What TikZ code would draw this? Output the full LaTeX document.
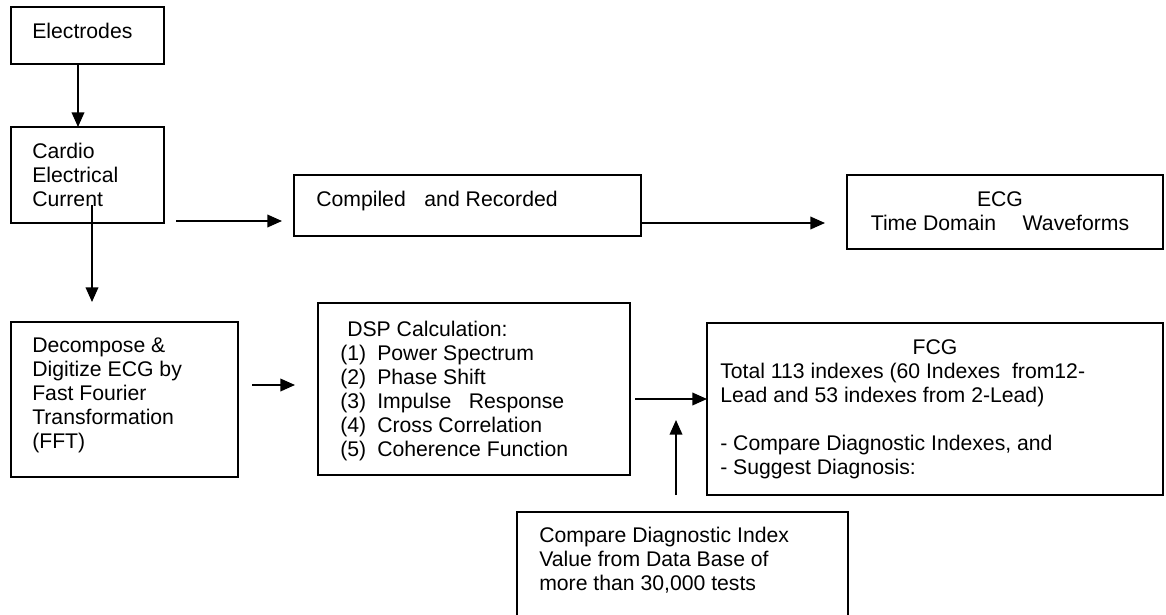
\documentclass[tikz,border=0pt]{standalone}
\usepackage{fontspec}
\setmainfont{Liberation Sans}
\usetikzlibrary{arrows.meta,calc}
\newcommand\fs{\fontsize{15.9pt}{18pt}\selectfont}
\newcommand\fl{\rule{0pt}{12pt}}
\newcommand\pxl[1]{#1*0.75pt}
\begin{document}
\begin{tikzpicture}[x=0.75pt,y=-0.75pt,
  box/.style={draw=black,line width=1.4pt,inner sep=0pt,outer sep=0pt,anchor=north west,rectangle},
  txt/.style={inner sep=0pt,anchor=north west,align=left,font=\fs},
  arr/.style={line width=1.2pt,-{Triangle[length=11pt,width=9.5pt]}}]
\path[use as bounding box,fill=white] (0,0) rectangle (1166,614);
\clip (0,0) rectangle (1166,614);
% boxes
\node[box,minimum width=\pxl{153},minimum height=\pxl{57}] (el) at (11,7) {};
\node[box,minimum width=\pxl{153},minimum height=\pxl{96}] (cec) at (11,127) {};
\node[box,minimum width=\pxl{347},minimum height=\pxl{61}] (crec) at (294,175) {};
\node[box,minimum width=\pxl{316},minimum height=\pxl{74}] (ecg) at (847,175) {};
\node[box,minimum width=\pxl{227},minimum height=\pxl{155}] (dec) at (11,322) {};
\node[box,minimum width=\pxl{312},minimum height=\pxl{172}] (dsp) at (318,303) {};
\node[box,minimum width=\pxl{456},minimum height=\pxl{172}] (fcg) at (707,323) {};
\node[box,minimum width=\pxl{331},minimum height=\pxl{106}] (cmp) at (517,512) {};
% texts
\node[txt] (elt) at (32,22) {\fl Electrodes};
\node[txt] (cect) at (32,142) {\fl Cardio\\Electrical\\Current};
\node[txt] (crect) at (316,190) {\fl Compiled\hspace{14pt}and Recorded};
\node[txt,anchor=north,align=center] (ecgt) at (1000,190) {\fl ECG\\Time Domain\hspace{20pt}Waveforms};
\node[txt] (dect) at (32,336) {\fl Decompose \&\\Digitize ECG by\\Fast Fourier\\Transformation\\(FFT)};
\node[txt] (dspt) at (340,320) {\fl\hspace*{5.25pt}DSP Calculation:\\
  \makebox[27.75pt][l]{(1)}Power Spectrum\\
  \makebox[27.75pt][l]{(2)}Phase Shift\\
  \makebox[27.75pt][l]{(3)}Impulse\hspace{13pt}Response\\
  \makebox[27.75pt][l]{(4)}Cross Correlation\\
  \makebox[27.75pt][l]{(5)}Coherence Function};
\node[txt,anchor=north] (fcgh) at (935,338) {\fl FCG};
\node[txt] (fcgt) at (720,362) {\fl Total 113 indexes (60 Indexes\hspace{8.8pt}from12-\\
  Lead and 53 indexes from 2-Lead)\\[18pt]
  - Compare Diagnostic Indexes, and\\
  - Suggest Diagnosis:};
\node[txt] (cmpt) at (539,526) {\fl Compare Diagnostic Index\\Value from Data Base of\\more than 30,000 tests};
% connectors
\draw[arr] ($(el.south west)+(67,0)$) -- ($(cec.north west)+(67,0)$);
\draw[arr] ($(cec.south east)+(12,-2)$) coordinate (a2) -- ($(a2 -| crec.west)+(-12,0)$);
\draw[arr] ($(cec.south west)+(81,-18)$) -- ($(dec.north west)+(81,-20)$);
\draw[arr] ($(crec.east)+(0,17.5)$) coordinate (a4) -- ($(a4 -| ecg.west)+(-22,0)$);
\draw[arr] ($(dec.east)+(14,-14.5)$) coordinate (a5) -- ($(a5 -| dsp.west)+(-23,0)$);
\draw[arr] ($(dsp.east)+(5,10)$) coordinate (a6) -- (a6 -| fcg.west);
\draw[arr] ($(cmp.north west)+(159,-17)$) -- ($(cmp.north west)+(159,-92)$);
\end{tikzpicture}
\end{document}
